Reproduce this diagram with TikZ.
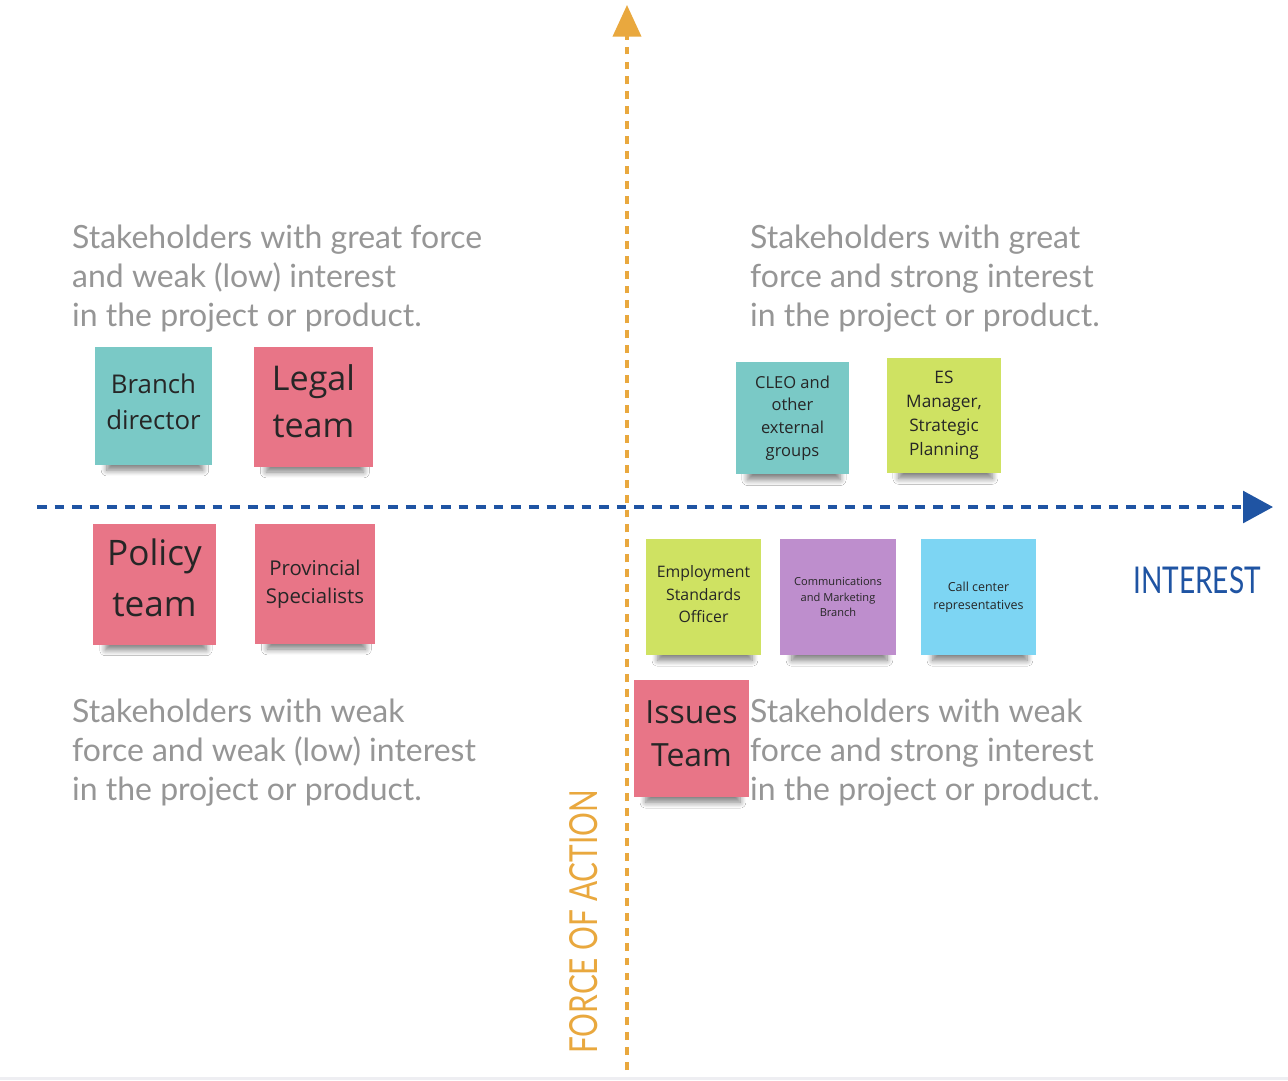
\documentclass[tikz,border=0pt]{standalone}
\usepackage{fontspec}
\setmainfont{Open Sans}
\newfontfamily\quadfont{Lato}[WordSpace=1.8]
\newfontfamily\axisfont{Lato}
\usetikzlibrary{arrows.meta,shadows.blur}

\definecolor{noteteal}{RGB}{122,201,198}
\definecolor{notepink}{RGB}{232,117,135}
\definecolor{notelime}{RGB}{207,226,98}
\definecolor{notepurple}{RGB}{190,142,205}
\definecolor{noteblue}{RGB}{125,213,243}
\definecolor{axisorange}{RGB}{233,168,62}
\definecolor{axisblue}{RGB}{31,84,163}
\definecolor{quadgrey}{RGB}{150,150,150}
\definecolor{edgegrey}{RGB}{238,238,242}

\begin{document}
\begin{tikzpicture}[
    x=0.02cm, y=-0.02cm,
    note/.style={rectangle, inner sep=0pt, align=center, text=black!85,
        blur shadow={shadow xshift=1pt, shadow yshift=-11pt, shadow scale=0.82,
            shadow blur radius=4pt, shadow blur steps=8, shadow opacity=50}},
    lift/.style={text depth=#1},
    quad/.style={anchor=north west, align=left, text=quadgrey,
        font=\quadfont\fontsize{18.2}{22}\selectfont},
    forceaxis/.style={draw=axisorange, line width=2pt, dash pattern=on 4.5pt off 4pt,
        -{Triangle[length=18pt,width=16pt]}},
    interestaxis/.style={draw=axisblue, line width=2pt, dash pattern=on 5.5pt off 4.5pt,
        -{Triangle[length=17pt,width=18pt]}}
]
    % frame
    \path[use as bounding box, fill=white] (0,0) rectangle (1288,1080);
    \fill[edgegrey] (0,1077) rectangle (1288,1080);

    % Axes
    \coordinate (fbottom) at (627,1070);
    \coordinate (ftop) at (627,5);
    \coordinate (ileft) at (37,507);
    \coordinate (iright) at (1273,507);
    \draw[forceaxis] (fbottom) -- (ftop);
    \draw[interestaxis] (ileft) -- (iright);
    \node[text=axisblue, font=\axisfont\fontsize{21}{21}\selectfont, xscale=0.76] (interest) at (1197,580) {INTEREST};
    \node[text=axisorange, font=\axisfont\fontsize{22}{22}\selectfont, rotate=90, xscale=0.77] (force) at (584,922) {FORCE OF ACTION};

    % Quadrants
    \node[quad] (greatweak) at (66,219) {Stakeholders with great force\\and weak (low) interest\\in the project or product.};
    \node[quad] (greatstrong) at (744,219) {Stakeholders with great\\force and strong interest\\in the project or product.};
    \node[quad] (weakweak) at (66,693) {Stakeholders with weak\\force and weak (low) interest\\in the project or product.};
    \node[quad] (weakstrong) at (744,693) {Stakeholders with weak\\force and strong interest\\in the project or product.};

    % Notes
    \node[note, lift=4.5pt, fill=noteteal, minimum width=2.34cm, minimum height=2.36cm,
        font=\fontsize{14.7}{20.4}\selectfont] (branch) at (153.5,406) {Branch\\director};
    \node[note, lift=6.8pt, fill=notepink, minimum width=2.38cm, minimum height=2.4cm,
        font=\fontsize{19.4}{26.6}\selectfont] (legal) at (313.5,407) {Legal\\team};
    \node[note, lift=8pt, fill=notepink, minimum width=2.46cm, minimum height=2.42cm,
        font=\fontsize{20}{29}\selectfont] (policy) at (154.5,584.5) {Policy\\team};
    \node[note, fill=notepink, minimum width=2.4cm, minimum height=2.4cm,
        font=\fontsize{11.6}{16}\selectfont] (provincial) at (315,584) {Provincial\\Specialists};
    \node[note, fill=noteteal, minimum width=2.26cm, minimum height=2.24cm,
        font=\fontsize{9.4}{13}\selectfont] (cleo) at (792.5,418) {CLEO and\\other\\external\\groups};
    \node[note, fill=notelime, minimum width=2.28cm, minimum height=2.3cm,
        font=\fontsize{9.8}{13.6}\selectfont] (esmanager) at (944,415.5) {ES\\Manager,\\Strategic\\Planning};
    \node[note, lift=3.4pt, fill=notelime, minimum width=2.3cm, minimum height=2.32cm,
        font=\fontsize{9}{12.8}\selectfont] (employment) at (703.5,597) {Employment\\Standards\\Officer};
    \node[note, fill=notepurple, minimum width=2.32cm, minimum height=2.32cm,
        font=\fontsize{6.3}{8.8}\selectfont] (comms) at (838,597) {Communications\\and Marketing\\Branch};
    \node[note, fill=noteblue, minimum width=2.3cm, minimum height=2.32cm,
        font=\fontsize{7.1}{10.2}\selectfont] (callcenter) at (978.5,597) {Call center\\representatives};
    \node[note, lift=5.7pt, fill=notepink, minimum width=2.3cm, minimum height=2.34cm,
        font=\fontsize{18.2}{24.4}\selectfont] (issues) at (691.5,738.5) {Issues\\Team};
\end{tikzpicture}
\end{document}
